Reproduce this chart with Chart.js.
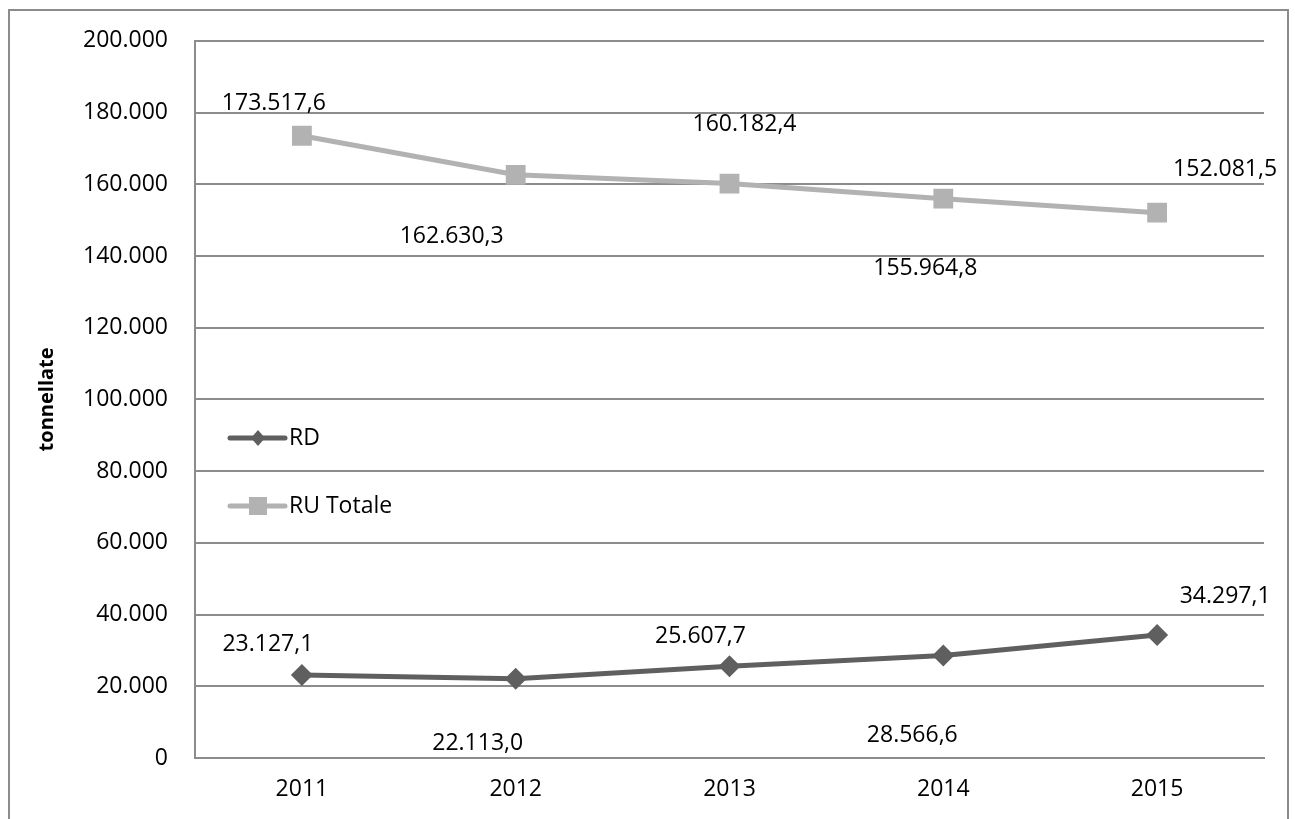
<!DOCTYPE html>
<html>
<head>
<meta charset="utf-8">
<script src="https://cdn.jsdelivr.net/npm/chart.js@4/dist/chart.umd.min.js"></script>
<style>
  html, body { margin: 0; padding: 0; background: #fff; overflow: hidden; }
  #cornice { position: absolute; left: 8px; top: 9px; width: 1277px; height: 900px; border: 2px solid #8c8c8c; }
  #grafico { position: absolute; left: 0; top: 0; }
</style>
</head>
<body>
<div id="cornice"></div>
<canvas id="grafico" width="1295" height="819"></canvas>
<script>
// dati
const anni = ['2011', '2012', '2013', '2014', '2015'];
const valoriRD = [23127.1, 22113.0, 25607.7, 28566.6, 34297.1];
const valoriRU = [173517.6, 162630.3, 160182.4, 155964.8, 152081.5];
const asseYMax = 200000;
const asseYPasso = 20000;

const coloreRD = '#5f5f5f';
const coloreRU = '#b2b2b2';
const font = "'Open Sans', 'Noto Sans', sans-serif";

// formato italiano: 173.517,6
function formatta(v, dec) {
    const parti = v.toFixed(dec).split('.');
    const intero = parti[0].replace(/\B(?=(\d{3})+(?!\d))/g, '.');
    return parti[1] ? intero + ',' + parti[1] : intero;
}

// spostamento delle etichette rispetto al punto (come nel grafico originale)
const spostamenti = [
    [[-34, -31], [-38, 65], [-29, -30], [-31, 80], [68, -39]],   // RD
    [[-28, -32], [-64, 62], [15, -59], [-18, 70], [68, -43]]     // RU Totale
];

const etichettePlugin = {
    id: 'etichette',
    afterDatasetsDraw(chart) {
        const ctx = chart.ctx;
        ctx.save();
        ctx.font = '23px ' + font;
        ctx.fillStyle = '#000';
        ctx.textAlign = 'center';
        ctx.textBaseline = 'middle';
        chart.data.datasets.forEach((ds, i) => {
            const meta = chart.getDatasetMeta(i);
            meta.data.forEach((p, j) => {
                const d = spostamenti[i][j];
                ctx.fillText(formatta(ds.data[j], 1), p.x + d[0], p.y + d[1]);
            });
        });

        // legenda dentro l'area del grafico
        const area = chart.chartArea;
        const x0 = area.left + 35;
        const righe = [
            { testo: 'RD', colore: coloreRD, y: 438, forma: 'rombo' },
            { testo: 'RU Totale', colore: coloreRU, y: 506, forma: 'quadrato' }
        ];
        righe.forEach((r) => {
            ctx.strokeStyle = r.colore;
            ctx.fillStyle = r.colore;
            ctx.lineWidth = 5;
            ctx.lineCap = 'round';
            ctx.beginPath();
            ctx.moveTo(x0, r.y);
            ctx.lineTo(x0 + 55, r.y);
            ctx.stroke();
            const cx = x0 + 28;
            ctx.beginPath();
            if (r.forma === 'rombo') {
                ctx.moveTo(cx, r.y - 8);
                ctx.lineTo(cx + 7, r.y);
                ctx.lineTo(cx, r.y + 8);
                ctx.lineTo(cx - 7, r.y);
                ctx.closePath();
            } else {
                ctx.rect(cx - 9, r.y - 9, 18, 18);
            }
            ctx.fill();
            ctx.fillStyle = '#000';
            ctx.textAlign = 'left';
            ctx.fillText(r.testo, x0 + 59, r.y);
        });
        ctx.restore();
    }
};

const ctx = document.getElementById('grafico').getContext('2d');
new Chart(ctx, {
    type: 'line',
    data: {
        labels: anni,
        datasets: [
            {
                label: 'RD',
                data: valoriRD,
                borderColor: coloreRD,
                backgroundColor: coloreRD,
                borderWidth: 5,
                pointStyle: 'rectRot',
                pointRadius: 11,
                pointBorderWidth: 0,
                tension: 0
            },
            {
                label: 'RU Totale',
                data: valoriRU,
                borderColor: coloreRU,
                backgroundColor: coloreRU,
                borderWidth: 5,
                pointStyle: 'rect',
                pointRadius: 14,
                pointBorderWidth: 0,
                tension: 0
            }
        ]
    },
    options: {
        responsive: false,
        animation: false,
        devicePixelRatio: 1,
        layout: { padding: { top: 39, right: 31, left: 0, bottom: 0 } },
        plugins: {
            legend: { display: false },
            tooltip: { enabled: false }
        },
        scales: {
            x: {
                offset: true,
                grid: { display: false, drawTicks: false },
                border: { color: '#8c8c8c', width: 2 },
                ticks: { color: '#000', font: { family: font, size: 23 }, padding: 18 },
                afterFit: (s) => { s.height = 61; }
            },
            y: {
                min: 0,
                max: asseYMax,
                grid: { color: '#8c8c8c', lineWidth: 2, drawTicks: false },
                border: { color: '#8c8c8c', width: 2 },
                ticks: {
                    stepSize: asseYPasso,
                    color: '#000',
                    font: { family: font, size: 23 },
                    padding: 27,
                    callback: (v) => formatta(v, 0)
                },
                title: {
                    display: true,
                    text: 'tonnellate',
                    color: '#000',
                    font: { family: font, size: 20, weight: 'bold' },
                    padding: { top: 35, bottom: 0 }
                },
                afterFit: (s) => { s.width = 195; }
            }
        }
    },
    plugins: [etichettePlugin]
});
</script>
</body>
</html>
